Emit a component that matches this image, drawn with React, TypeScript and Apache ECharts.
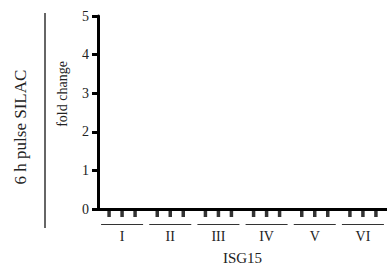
import React, { useEffect, useRef } from "react";
import * as echarts from "echarts";

const groups = ["I", "II", "III", "IV", "V", "VI"];
const seriesA = [0, 0, 0, 0, 0, 0];
const seriesB = [0, 0, 0, 0, 0, 0];
const seriesC = [0, 0, 0, 0, 0, 0];
const yTicks = [0, 1, 2, 3, 4, 5];

const FONT = "Liberation Serif";

export default function App() {
  const ref = useRef<HTMLDivElement>(null);
  useEffect(() => {
    if (!ref.current) return;
    const chart = echarts.init(ref.current, null, { renderer: "svg" });
    const mk = (data: number[], dx: number) => ({
      type: "scatter",
      data,
      symbol: "rect",
      symbolSize: [3.5, 8],
      symbolOffset: [dx, 4],
      itemStyle: { color: "#000" },
      clip: false,
      silent: true,
    });
    chart.setOption({
      animation: false,
      grid: { left: 98, right: 0, top: 16, bottom: 59, containLabel: false },
      xAxis: {
        type: "category",
        data: groups,
        boundaryGap: true,
        axisLine: { show: true, lineStyle: { color: "#000", width: 3 } },
        axisTick: { show: false },
        axisLabel: {
          interval: 0,
          margin: 15,
          formatter: (v: string) => `{u| }\n{t|${v}}`,
          rich: {
            u: { width: 42, height: 1, lineHeight: 1, backgroundColor: "#333", fontSize: 1 },
            t: { fontFamily: FONT, fontSize: 14, color: "#222", lineHeight: 20, padding: [3, 0, 0, 0] },
          },
        },
        name: "ISG15",
        nameLocation: "middle",
        nameGap: 41,
        nameTextStyle: { fontFamily: FONT, fontSize: 15, color: "#222" },
      },
      yAxis: {
        type: "value",
        min: 0,
        max: 5,
        interval: 1,
        axisLine: { show: true, lineStyle: { color: "#000", width: 3 } },
        axisTick: { show: true, length: 6, lineStyle: { color: "#000", width: 3 } },
        splitLine: { show: false },
        axisLabel: {
          margin: 9,
          fontFamily: FONT,
          fontSize: 14,
          color: "#222",
          formatter: (v: number) => (yTicks.includes(v) ? String(v) : ""),
        },
      },
      series: [mk(seriesA, -13), mk(seriesB, 0), mk(seriesC, 13)],
      graphic: [
        {
          type: "text",
          x: 62,
          y: 94,
          rotation: Math.PI / 2,
          style: {
            text: "fold change",
            fontFamily: FONT,
            fontSize: 14,
            fill: "#222",
            align: "center",
            verticalAlign: "middle",
          },
        },
        {
          type: "text",
          x: 20,
          y: 127,
          rotation: Math.PI / 2,
          style: {
            text: "6 h pulse SILAC",
            fontFamily: FONT,
            fontSize: 17,
            fill: "#222",
            align: "center",
            verticalAlign: "middle",
          },
        },
        {
          type: "line",
          shape: { x1: 45, y1: 13, x2: 45, y2: 228 },
          style: { stroke: "#333", lineWidth: 1.5 },
        },
      ],
    });
    return () => chart.dispose();
  }, []);
  return (
    <div
      ref={ref}
      style={{ position: "absolute", left: 0, top: 0, width: 387, height: 270, background: "#fff" }}
    />
  );
}
